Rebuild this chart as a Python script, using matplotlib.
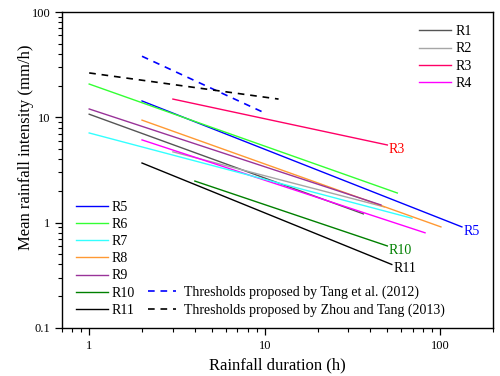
import matplotlib
matplotlib.use("Agg")
import matplotlib.pyplot as plt

plt.rcParams['font.family'] = ['Liberation Serif', 'DejaVu Serif']
plt.rcParams['mathtext.fontset'] = 'stix'

# start / end of each threshold line (duration h, intensity mm/h)
names = ["R1", "R2", "R3", "R4", "R5", "R6", "R7", "R8", "R9", "R10", "R11"]
d_start = [1, 3, 3, 2, 2, 1, 1, 2, 1, 4, 2]
d_end = [36.5, 48, 50, 82, 133, 57, 69, 101, 46, 50, 53]
i_start = [10.7, 4.7, 14.9, 6.1, 14.3, 20.7, 7.1, 9.4, 12.0, 2.48, 3.68]
i_end = [1.21, 1.41, 5.46, 0.80, 0.91, 1.91, 1.10, 0.91, 1.47, 0.60, 0.40]
colores = ["#555555", "#A6A6A6", "#FF0066", "#FF00FF", "#0000FF", "#33FF33",
           "#33FFFF", "#FF9933", "#993399", "#008000", "#000000"]

# thresholds from the literature
tang_d = [2, 10]
tang_i = [38, 11]
zhou_d = [1, 12]
zhou_i = [26.4, 14.9]

# labels written at the end of some lines
etiquetas = {"R3": "#FF0000", "R5": "#0000FF", "R10": "#008000", "R11": "#000000"}

fig = plt.figure(figsize=(5.0, 3.76), dpi=100)
ax = fig.add_axes([0.124, 0.128, 0.862, 0.840])

lineas = []
for k in range(len(names)):
    l, = ax.plot([d_start[k], d_end[k]], [i_start[k], i_end[k]],
                 color=colores[k], lw=1.0, label=names[k])
    lineas.append(l)
    if names[k] in etiquetas:
        ax.annotate(names[k], (d_end[k], i_end[k]), xytext=(1, -3),
                    textcoords="offset points", ha="left", va="center",
                    color=etiquetas[names[k]], fontsize=10)

t1, = ax.plot(tang_d, tang_i, color="#0000FF", lw=1.2, ls=(0, (4, 3.5)),
              label="Thresholds proposed by Tang et al. (2012)")
t2, = ax.plot(zhou_d, zhou_i, color="#000000", lw=1.2, ls=(0, (4, 3.5)),
              label="Thresholds proposed by Zhou and Tang (2013)")

ax.set_xscale("log")
ax.set_yscale("log")
ax.set_xlim(0.7, 200)
ax.set_ylim(0.1, 100)
ax.set_xticks([1, 10, 100])
ax.set_xticklabels(["1", "10", "100"])
ax.set_yticks([0.1, 1, 10, 100])
ax.set_yticklabels(["0.1", "1", "10", "100"])
ax.tick_params(which="major", direction="out", length=5, width=0.9, labelsize=9)
ax.tick_params(which="minor", direction="out", length=3, width=0.8)
for s in ax.spines.values():
    s.set_linewidth(1.0)

ax.set_xlabel("Rainfall duration (h)", fontsize=12)
ax.set_ylabel("Mean rainfall intensity (mm/h)", fontsize=12)
ax.yaxis.set_label_coords(-0.066, 0.571)

opts = dict(frameon=False, fontsize=10, borderpad=0, borderaxespad=0,
            labelspacing=0.3, handlelength=2.3, handletextpad=0.3)
leg1 = ax.legend(lineas[:4], names[:4], loc="upper right",
                 bbox_to_anchor=(0.951, 0.958), **opts)
ax.add_artist(leg1)
leg2 = ax.legend(lineas[4:], names[4:], loc="lower left",
                 bbox_to_anchor=(0.032, 0.035), **opts)
ax.add_artist(leg2)
ax.legend([t1, t2], [t1.get_label(), t2.get_label()], loc="lower left",
          bbox_to_anchor=(0.2, 0.035), **dict(opts, handlelength=2.0,
                                             handletextpad=0.6))

fig.savefig("out.png", dpi=100)
